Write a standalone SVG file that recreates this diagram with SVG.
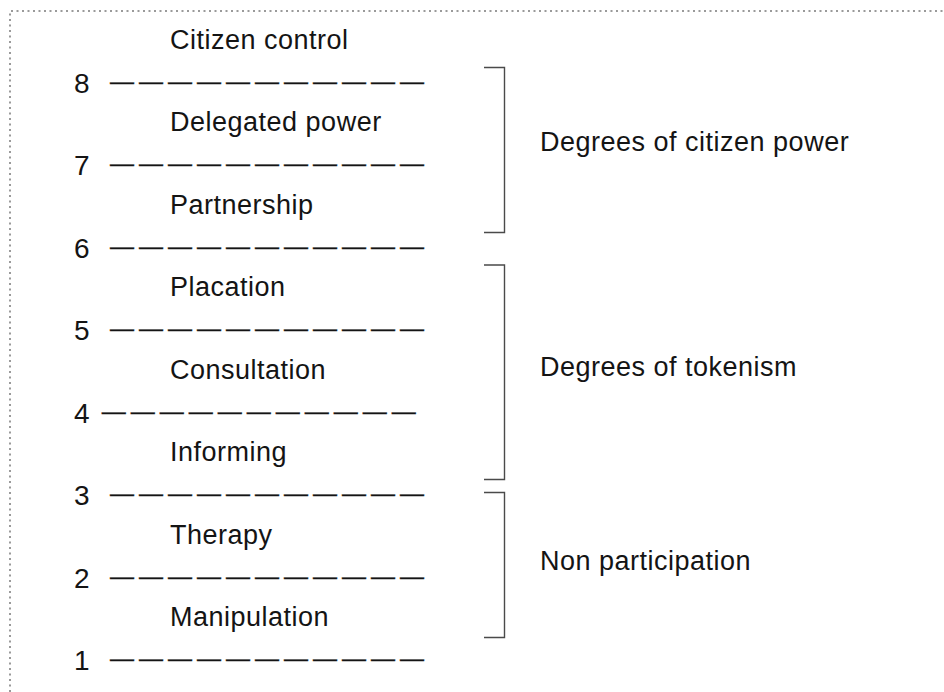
<svg xmlns="http://www.w3.org/2000/svg" width="944" height="692" viewBox="0 0 944 692">
<style>
  .t { font-family: "Liberation Sans", Arial, Helvetica, sans-serif; font-size: 27px; letter-spacing: 0.5px; fill: #141414; }
  .n { font-family: "Liberation Sans", Arial, Helvetica, sans-serif; font-size: 28px; fill: #141414; }
  .d { font-family: "Liberation Sans", Arial, Helvetica, sans-serif; font-size: 24px; letter-spacing: 5px; fill: #141414; stroke: #141414; stroke-width: 0.35; }
  .br { fill: none; stroke: #4a4a4a; stroke-width: 1.4; }
  .frame { fill: none; stroke: #9a9a9a; stroke-width: 2; stroke-dasharray: 2 3.5; }
</style>
<rect width="944" height="692" fill="#ffffff"/>
<path class="frame" d="M10,692 V11 H944"/>

<g id="rung-8"><text class="n" x="74" y="92.5">8</text><text class="d" x="110" y="88.5">———————————</text></g>
<g id="rung-7"><text class="n" x="74" y="175">7</text><text class="d" x="110" y="171">———————————</text></g>
<g id="rung-6"><text class="n" x="74" y="257.5">6</text><text class="d" x="110" y="253.5">———————————</text></g>
<g id="rung-5"><text class="n" x="74" y="340">5</text><text class="d" x="110" y="336">———————————</text></g>
<g id="rung-4"><text class="n" x="74" y="422.5">4</text><text class="d" x="101.7" y="418.5">———————————</text></g>
<g id="rung-3"><text class="n" x="74" y="505">3</text><text class="d" x="110" y="501">———————————</text></g>
<g id="rung-2"><text class="n" x="74" y="587.5">2</text><text class="d" x="110" y="583.5">———————————</text></g>
<g id="rung-1"><text class="n" x="74" y="670">1</text><text class="d" x="110" y="666">———————————</text></g>

<g id="label-citizen-control"><text class="t" x="170" y="48.5">Citizen control</text></g>
<g id="label-delegated-power"><text class="t" x="170" y="131">Delegated power</text></g>
<g id="label-partnership"><text class="t" x="170" y="213.5">Partnership</text></g>
<g id="label-placation"><text class="t" x="170" y="296">Placation</text></g>
<g id="label-consultation"><text class="t" x="170" y="378.5">Consultation</text></g>
<g id="label-informing"><text class="t" x="170" y="461">Informing</text></g>
<g id="label-therapy"><text class="t" x="170" y="543.5">Therapy</text></g>
<g id="label-manipulation"><text class="t" x="170" y="626">Manipulation</text></g>

<g id="connectors">
  <path class="br" d="M484,67.5 H504.5 V232.5 H484"/>
  <path class="br" d="M484,265 H504.5 V479.5 H484"/>
  <path class="br" d="M484,492.5 H504.5 V637.5 H484"/>
</g>

<g id="group-citizen-power"><text class="t" x="540" y="150.5">Degrees of citizen power</text></g>
<g id="group-tokenism"><text class="t" x="540" y="376">Degrees of tokenism</text></g>
<g id="group-non-participation"><text class="t" x="540" y="570">Non participation</text></g>
</svg>
